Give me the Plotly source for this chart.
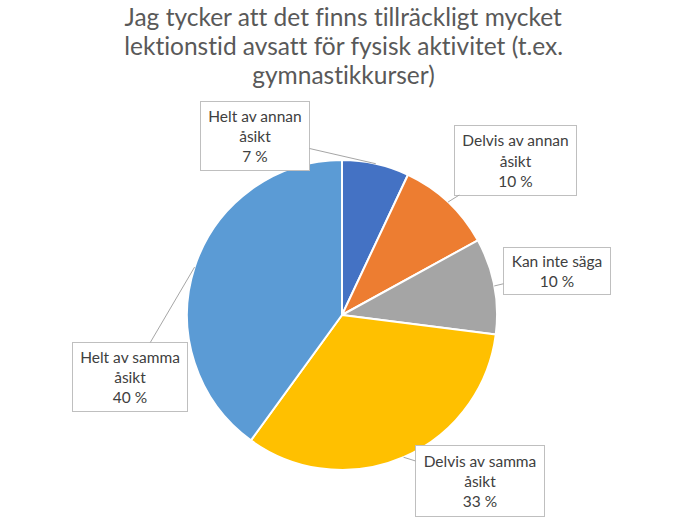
import math
import plotly.graph_objects as go

categories = ["Helt av annan åsikt", "Delvis av annan åsikt", "Kan inte säga",
              "Delvis av samma åsikt", "Helt av samma åsikt"]
label_lines = ["Helt av annan<br>åsikt", "Delvis av annan<br>åsikt", "Kan inte säga",
               "Delvis av samma<br>åsikt", "Helt av samma<br>åsikt"]
values = [7, 10, 10, 33, 40]
colors = ["#4472C4", "#ED7D31", "#A5A5A5", "#FFC000", "#5B9BD5"]
title_lines = ["Jag tycker att det finns tillräckligt mycket",
               "lektionstid avsatt för fysisk aktivitet (t.ex.",
               "gymnastikkurser)"]

W, H = 688, 517
# pie placement (pixels)
cx, cy, R = 342, 315, 155
# label box centres and sizes (pixels)
boxes = [(255, 136, 110, 70), (515, 160, 123, 71), (557, 271, 108, 48),
         (480, 481, 130, 72), (130, 377, 116, 70)]

fig = go.Figure(go.Pie(
    labels=categories, values=values, sort=False, direction="clockwise",
    rotation=0, marker=dict(colors=colors, line=dict(color="white", width=2)),
    textinfo="none", hoverinfo="label+percent", showlegend=False,
    domain=dict(x=[(cx - R) / W, (cx + R) / W], y=[1 - (cy + R) / H, 1 - (cy - R) / H]),
))

font = "Lato, 'Noto Sans', sans-serif"
annotations = []
for i, t in enumerate(title_lines):
    annotations.append(dict(text=t, x=343 / W, y=1 - (16.5 + 29 * i) / H,
                            xref="paper", yref="paper",
                            showarrow=False, xanchor="center", yanchor="middle",
                            font=dict(family=font, size=24.5, color="#595959")))

total = sum(values)
cum = 0
for i, v in enumerate(values):
    mid = (cum + v / 2) / total * 2 * math.pi
    cum += v
    tx = cx + R * math.sin(mid)
    ty = cy - R * math.cos(mid)
    bx, by, bw, bh = boxes[i]
    pct = round(v / total * 100)
    annotations.append(dict(
        text=f"{label_lines[i]}<br>{pct} %",
        x=tx / W, y=1 - ty / H, xref="paper", yref="paper",
        ax=bx - tx, ay=by - ty, axref="pixel", ayref="pixel",
        showarrow=True, arrowhead=0, arrowwidth=1, arrowcolor="#A6A6A6",
        bgcolor="white", bordercolor="#BFBFBF", borderwidth=1, borderpad=0,
        width=bw - 2, height=bh - 2, align="center", valign="middle",
        font=dict(family=font, size=15.5, color="#404040"),
    ))

fig.update_layout(width=W, height=H, margin=dict(l=0, r=0, t=0, b=0),
                  paper_bgcolor="white", plot_bgcolor="white",
                  annotations=annotations)
post = ("document.body.style.margin='0';"
        "document.head.insertAdjacentHTML('beforeend',"
        "'<style>text{font-variant-ligatures:none !important;"
        "font-feature-settings:\"liga\" 0, \"clig\" 0 !important;}</style>');")
fig.write_html("out.html", post_script=post, config={"displayModeBar": False})
